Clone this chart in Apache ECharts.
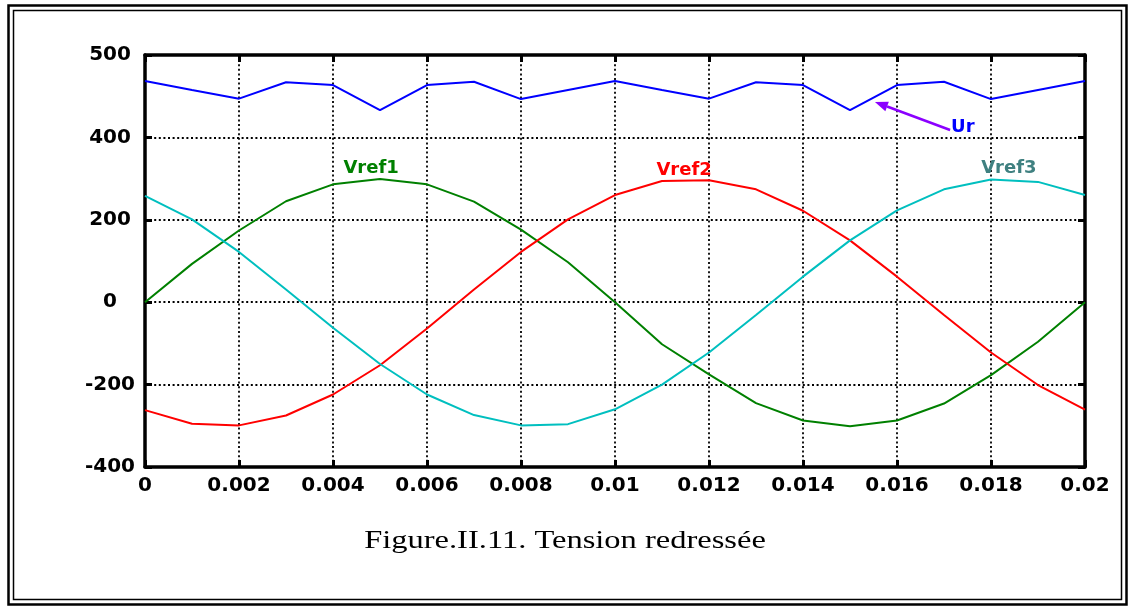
<!DOCTYPE html>
<html><head><meta charset="utf-8">
<script src="https://cdn.jsdelivr.net/npm/echarts@6/dist/echarts.min.js"></script>
<style>html,body{margin:0;padding:0;background:#fff}#c{width:1130px;height:607px}</style>
</head><body><div id="c"></div>
<script>
// ---- data ----
const timeValues = [0, 0.001, 0.002, 0.003, 0.004, 0.005, 0.006, 0.007, 0.008, 0.009, 0.010,
                    0.011, 0.012, 0.013, 0.014, 0.015, 0.016, 0.017, 0.018, 0.019, 0.020];
const vref1 = [0, 93, 174, 245, 286, 299, 286, 244, 176, 97, 0, -102, -175, -245, -287, -301, -287, -246, -177, -96, 0];
const vref2 = [-262, -295, -299, -275, -224, -153, -64, 31, 122, 201, 260, 294, 296, 274, 222, 150, 62, -31, -122, -201, -261];
const vref3 = [258, 201, 122, 31, -62, -150, -224, -274, -299, -296, -260, -200, -122, -31, 62, 150, 223, 274, 298, 292, 260];
const ur    = [537, 515, 494, 534, 527, 466, 527, 535, 493, 515, 537, 515, 494, 534, 527, 466, 527, 535, 493, 515, 537];
const xTickLabels = ['0', '0.002', '0.004', '0.006', '0.008', '0.01', '0.012', '0.014', '0.016', '0.018', '0.02'];
const yTickValues = [-400, -200, 0, 200, 400, 600];
const yTickLabels = ['-400', '-200', '0', '200', '400', '500'];
const seriesNames = ['Ur', 'Vref1', 'Vref2', 'Vref3'];
const labelTexts = ['Vref1', 'Vref2', 'Vref3', 'Ur'];
const labelTimes = [0.00481, 0.01147, 0.01838, 0.0174];
const labelValues = [325, 321, 325, 425];
const arrowFrom = [0.01713, 418];
const arrowTo = [0.01553, 486];
const caption = 'Figure.II.11. Tension redressée';

const colors = {Ur:'#0000ff', Vref1:'#008000', Vref2:'#ff0000', Vref3:'#00bfbf'};
const labelColors = ['#008000', '#ff0000', '#3f8080', '#0000ff'];
const seriesData = {Ur: ur, Vref1: vref1, Vref2: vref2, Vref3: vref3};

const chart = echarts.init(document.getElementById('c'));
const dotted = {show:true, lineStyle:{color:'#000', width:1.8, type:[2, 2.6]}};
const axisLine = {show:true, onZero:false, lineStyle:{color:'#000', width:3.5}};
const tick = {show:true, inside:true, length:7, lineStyle:{color:'#000', width:3}};
const tickFont = {fontFamily:'DejaVu Sans', fontWeight:'bold', fontSize:20, color:'#000'};

chart.setOption({
  animation:false,
  backgroundColor:'#fff',
  grid:{left:145, right:45, top:55, bottom:140},
  xAxis:[
    {type:'value', min:0, max:0.02, interval:0.002, position:'bottom',
     axisLine:axisLine, axisTick:tick, splitLine:dotted,
     axisLabel:Object.assign({margin:9, showMinLabel:true, showMaxLabel:true,
       formatter:v => xTickLabels[Math.round(v / 0.002)]}, tickFont)},
    {type:'value', min:0, max:0.02, interval:0.002, position:'top',
     axisLine:axisLine, axisTick:tick, splitLine:{show:false}, axisLabel:{show:false}}
  ],
  yAxis:[
    {type:'value', min:-400, max:600, interval:200, position:'left',
     axisLine:axisLine, axisTick:tick, splitLine:dotted,
     axisLabel:Object.assign({margin:35, align:'center', showMinLabel:true, showMaxLabel:true,
       formatter:v => yTickLabels[yTickValues.indexOf(Math.round(v))]}, tickFont)},
    {type:'value', min:-400, max:600, interval:200, position:'right',
     axisLine:axisLine, axisTick:tick, splitLine:{show:false}, axisLabel:{show:false}}
  ],
  series: seriesNames.map(n => ({
    name:n, type:'line', xAxisIndex:0, yAxisIndex:0, showSymbol:false, symbol:'none',
    lineStyle:{color:colors[n], width:2}, itemStyle:{color:colors[n]},
    data: timeValues.map((t, i) => [t, seriesData[n][i]])
  }))
});

const px = (t, v) => chart.convertToPixel({xAxisIndex:0, yAxisIndex:0}, [t, v]);
const graphics = [
  {type:'rect', shape:{x:8.5, y:5.5, width:1118, height:599}, style:{fill:'none', stroke:'#000', lineWidth:2.5}, silent:true},
  {type:'rect', shape:{x:13.5, y:10.5, width:1108, height:589}, style:{fill:'none', stroke:'#000', lineWidth:1.5}, silent:true},
  {type:'text', x:565, y:541, scaleX:1.3, style:{text:caption, x:0, y:0, font:'25px "Liberation Serif"', fill:'#000', textAlign:'center', textVerticalAlign:'middle'}}
];
labelTexts.forEach((txt, i) => {
  const p = px(labelTimes[i], labelValues[i]);
  graphics.push({type:'text', x:p[0], y:p[1], style:{text:txt, x:0, y:0, font:'bold 18px "DejaVu Sans"', fill:labelColors[i], textAlign:'center', textVerticalAlign:'middle'}});
});
const a = px(arrowFrom[0], arrowFrom[1]);
const b = px(arrowTo[0], arrowTo[1]);
const dx = b[0] - a[0], dy = b[1] - a[1], L = Math.hypot(dx, dy);
const ux = dx / L, uy = dy / L, hl = 13, hw = 5;
const base = [b[0] - ux * hl, b[1] - uy * hl];
graphics.push({type:'line', shape:{x1:a[0], y1:a[1], x2:base[0], y2:base[1]}, style:{stroke:'#8b00ff', lineWidth:2.5}});
graphics.push({type:'polygon', shape:{points:[b, [base[0] - uy * hw, base[1] + ux * hw], [base[0] + uy * hw, base[1] - ux * hw]]}, style:{fill:'#8b00ff'}});
chart.setOption({graphic:graphics});
</script></body></html>
